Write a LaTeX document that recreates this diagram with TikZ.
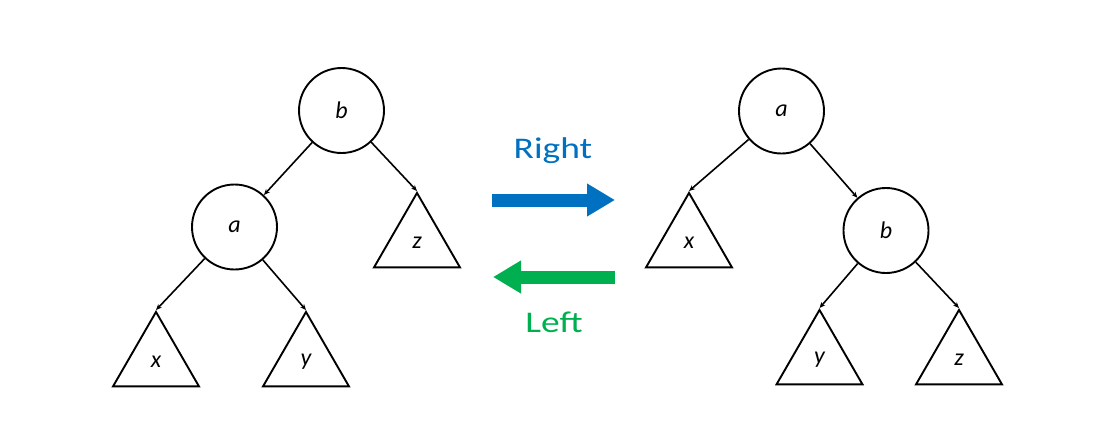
\documentclass[tikz,border=0pt]{standalone}
\usepackage{fontspec}
\setmainfont{Carlito}
\usetikzlibrary{arrows.meta,shapes.geometric}
\definecolor{rotblue}{HTML}{0070C0}
\definecolor{rotgreen}{HTML}{00B050}
\tikzset{
  treenode/.style={circle,draw,line width=1.9pt,minimum size=85pt,inner sep=0pt,
    font=\fontsize{24}{28}\selectfont\itshape},
  subtree/.style={regular polygon,regular polygon sides=3,draw,line width=1.9pt,
    minimum size=99.3pt,inner sep=0pt,font=\fontsize{24}{28}\selectfont\itshape},
  edge/.style={line width=1.6pt,-{Stealth[length=6pt,width=5pt]}},
  bigarrow/.style={line width=13pt,-{Triangle[length=28pt,width=31pt]}},
  rottext/.style={font=\fontsize{30}{34}\selectfont,xscale=1.25,inner sep=0pt}
}
\begin{document}
\begin{tikzpicture}[x=1pt,y=-1pt]
\useasboundingbox (0,0) rectangle (1106,431);
% left tree
\node[treenode] (Lb) at (341.5,110.5) {b};
\node[treenode] (La) at (234.5,227) {a};
\node[subtree] (Lz) at (417,242.6) {z};
\node[subtree] (Lx) at (156,361.6) {x};
\node[subtree] (Ly) at (306,361.6) {y};
\draw[edge] (Lb) -- (La);
\draw[edge] (Lb) -- (Lz.corner 1);
\draw[edge] (La) -- (Lx.corner 1);
\draw[edge] (La) -- (Ly.corner 1);
% right tree
\node[treenode] (Ra) at (781.5,111) {a};
\node[treenode] (Rb) at (886,230.5) {b};
\node[subtree] (Rx) at (689,242.6) {x};
\node[subtree] (Ry) at (819.5,359.6) {y};
\node[subtree] (Rz) at (959,359.6) {z};
\draw[edge] (Ra) -- (Rb);
\draw[edge] (Ra) -- (Rx.corner 1);
\draw[edge] (Rb) -- (Ry.corner 1);
\draw[edge] (Rb) -- (Rz.corner 1);
% rotation arrows
\coordinate (r1) at (492,200);
\coordinate (r2) at (615,200);
\coordinate (l1) at (615,277);
\coordinate (l2) at (493,277);
\draw[bigarrow,rotblue] (r1) -- (r2);
\draw[bigarrow,rotgreen] (l1) -- (l2);
\node[rottext,text=rotblue] (rt) at (553,151) {Right};
\node[rottext,text=rotgreen] (lt) at (554,322) {Left};
\end{tikzpicture}
\end{document}
